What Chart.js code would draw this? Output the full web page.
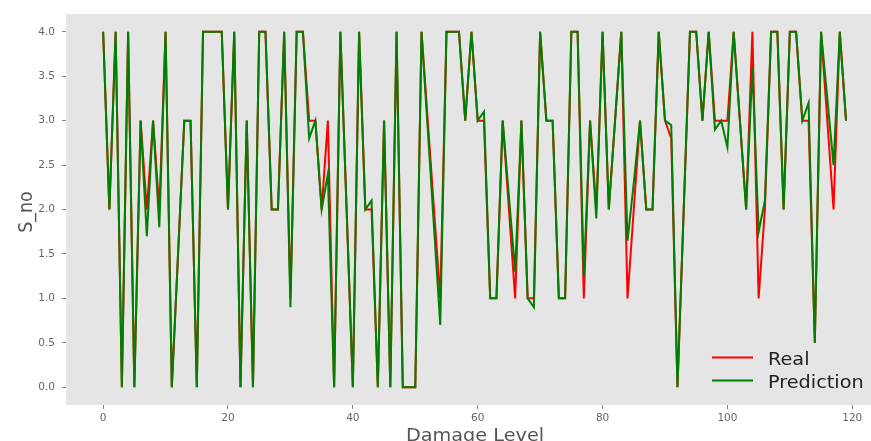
<!DOCTYPE html>
<html>
<head>
<meta charset="utf-8">
<script src="https://cdn.jsdelivr.net/npm/chart.js@4/dist/chart.umd.min.js"></script>
<style>
html,body{margin:0;padding:0;background:#fff;overflow:hidden}
#wrap{width:871px;height:441px;position:relative}
canvas{display:block}
</style>
</head>
<body>
<div id="wrap"><canvas id="c" width="871" height="441"></canvas></div>
<script>
// Sample index is the position in each array (0..119)
const realValues = [
  4,2,4,0,4,0,3,2,3,2,
  4,0,1.5,3,3,0,4,4,4,4,
  2,4,0,3,0,4,4,2,2,4,
  1,4,4,3,3,2,3,0,4,2,
  0,4,2,2,0,3,0,4,0,0,
  0,4,3,2,1,4,4,4,3,4,
  3,3,1,1,3,2,1,3,1,1,
  4,3,3,1,1,4,4,1,3,2,
  4,2,3,4,1,2,3,2,2,4,
  3,2.8,0,2,4,4,3,4,3,3,
  3,4,3,2,4,1,2,4,4,2,
  4,4,3,3,0.5,4,3,2,4,3
];
const predValues = [
  4,2,4,0,4,0,3,1.7,3,1.8,
  4,0,1.5,3,3,0,4,4,4,4,
  2,4,0,3,0,4,4,2,2,4,
  0.9,4,4,2.8,3,2,2.4,0,4,2,
  0,4,2,2.1,0,3,0,4,0,0,
  0,4,2.9,1.8,0.7,4,4,4,3,4,
  3,3.1,1,1,3,2.15,1.3,3,1,0.9,
  4,3,3,1,1,4,4,1.25,3,1.9,
  4,2,3,4,1.65,2.3,3,2,2,4,
  3,2.95,0,2,4,4,3,4,2.9,3,
  2.7,4,3,2,3.6,1.75,2.1,4,4,2,
  4,4,3,3.2,0.5,4,3.25,2.5,4,3
];
const xTicks = [0,20,40,60,80,100,120];
const yTicks = [0,0.5,1,1.5,2,2.5,3,3.5,4];
const seriesNames = ['Real','Prediction'];
const xTitle = 'Damage Level';
const yTitle = 'S_no';

const toPoints = arr => arr.map((v,i)=>({x:i,y:v}));

const bgPlugin = {
  id:'bg',
  beforeDraw(chart){
    const {ctx, chartArea:a} = chart;
    ctx.save();
    ctx.fillStyle = '#E5E5E5';
    ctx.fillRect(a.left, a.top, a.right-a.left, a.bottom-a.top);
    ctx.restore();
  }
};

const textPlugin = {
  id:'texts',
  afterDraw(chart){
    const ctx = chart.ctx;
    const sx = 1.1;
    // legend
    ctx.save();
    ctx.fillStyle = 'rgba(229,229,229,0.8)';
    ctx.fillRect(704, 345, 167, 50);
    ctx.lineWidth = 2;
    ctx.strokeStyle = '#ff0000';
    ctx.beginPath(); ctx.moveTo(712, 357.5); ctx.lineTo(753, 357.5); ctx.stroke();
    ctx.strokeStyle = '#008000';
    ctx.beginPath(); ctx.moveTo(712, 380.5); ctx.lineTo(753, 380.5); ctx.stroke();
    ctx.fillStyle = '#222';
    ctx.font = '17.5px "DejaVu Sans"';
    ctx.textBaseline = 'alphabetic';
    ctx.textAlign = 'left';
    ctx.save(); ctx.translate(768, 364.5); ctx.scale(sx,1); ctx.fillText(seriesNames[0], 0, 0); ctx.restore();
    ctx.save(); ctx.translate(768, 387.5); ctx.scale(sx,1); ctx.fillText(seriesNames[1], 0, 0); ctx.restore();
    // axis titles
    ctx.fillStyle = '#555';
    ctx.textAlign = 'center';
    ctx.save(); ctx.translate(475, 441); ctx.scale(sx,1); ctx.fillText(xTitle, 0, 0); ctx.restore();
    ctx.save(); ctx.translate(32, 212); ctx.scale(sx,1); ctx.rotate(-Math.PI/2); ctx.fillText(yTitle, 0, 0); ctx.restore();
    ctx.restore();
  }
};

new Chart(document.getElementById('c'), {
  type:'line',
  data:{
    datasets:[
      {label:seriesNames[0], data:toPoints(realValues), borderColor:'#ff0000', borderWidth:2, pointRadius:0, tension:0, fill:false, order:1},
      {label:seriesNames[1], data:toPoints(predValues), borderColor:'#008000', borderWidth:2, pointRadius:0, tension:0, fill:false, order:0}
    ]
  },
  options:{
    responsive:false,
    animation:false,
    devicePixelRatio:1,
    layout:{padding:{top:14,left:0,right:0,bottom:0}},
    plugins:{legend:{display:false}, tooltip:{enabled:false}},
    scales:{
      x:{
        type:'linear', min:-5.95, max:123.0,
        afterBuildTicks: s => { s.ticks = xTicks.map(v=>({value:v})); },
        afterFit: s => { s.height = 36; },
        ticks:{autoSkip:false, maxRotation:0, color:'#666', padding:3,
               font:{family:'DejaVu Sans', size:10.5}, callback: v => String(v)},
        grid:{drawOnChartArea:false, drawTicks:true, tickLength:4, color:'#888'},
        border:{display:false}
      },
      y:{
        type:'linear', min:-0.2, max:4.2,
        afterBuildTicks: s => { s.ticks = yTicks.map(v=>({value:v})); },
        afterFit: s => { s.width = 66; },
        ticks:{autoSkip:false, color:'#666', padding:7,
               font:{family:'DejaVu Sans', size:10.5}, callback: v => Number(v).toFixed(1)},
        grid:{drawOnChartArea:false, drawTicks:true, tickLength:4, color:'#888'},
        border:{display:false}
      }
    }
  },
  plugins:[bgPlugin, textPlugin]
});
</script>
</body>
</html>
